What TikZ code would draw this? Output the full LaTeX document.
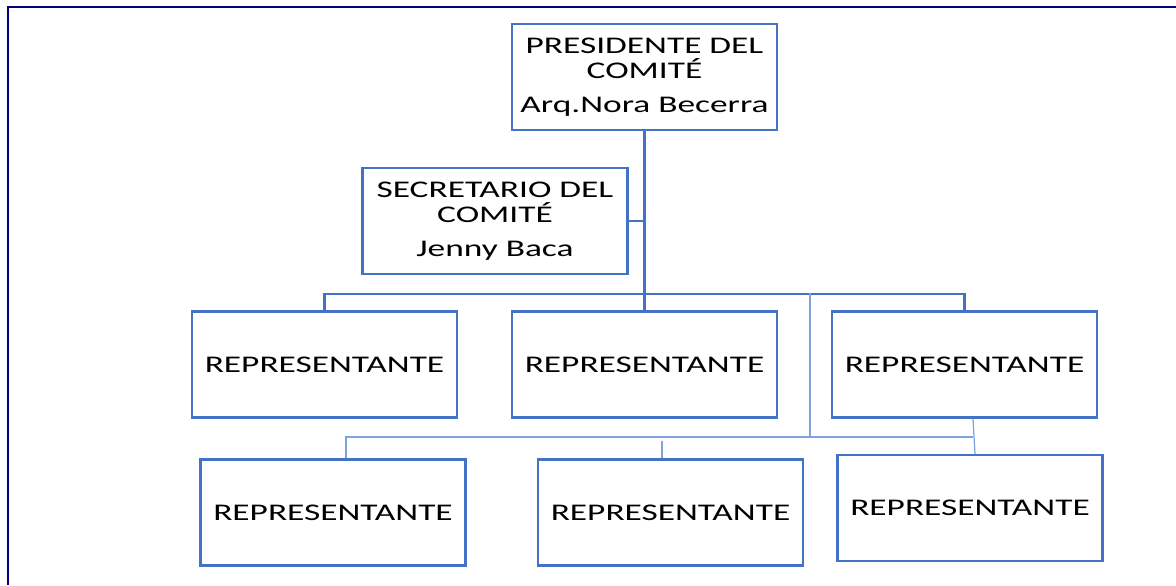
\documentclass[tikz,border=0pt]{standalone}
\usepackage{fontspec}
\setmainfont{Carlito}[FakeStretch=1.48]
\usepackage{tikz}
\definecolor{boxblue}{HTML}{4472C4}
\definecolor{lineblue}{HTML}{7FA3DC}
\definecolor{framenavy}{HTML}{000080}

\begin{document}
\begin{tikzpicture}[x=0.02cm,y=-0.02cm,
  box/.style={draw=boxblue,line width=1.4pt,fill=white,minimum width=5.3cm,minimum height=2.12cm,
    inner sep=0pt,align=center,font=\fontsize{13.6}{14.6}\selectfont},
  link/.style={draw=boxblue,line width=1.3pt},
  thinlink/.style={draw=lineblue,line width=0.7pt}]
\useasboundingbox (0,0) rectangle (1176,585);
\draw[line width=1.7pt,framenavy] (8,585) -- (8,7) -- (1176,7);
\node[box] (pres) at (644.5,77) {PRESIDENTE DEL\\COMITÉ\\[4.5pt]Arq.Nora Becerra};
\node[box] (sec) at (495,221) {SECRETARIO DEL\\COMITÉ\\[4.5pt]Jenny Baca};
\node[box] (rep1) at (324.5,364.5) {REPRESENTANTE};
\node[box] (rep2) at (644.5,364.5) {REPRESENTANTE};
\node[box] (rep3) at (964.5,364.5) {REPRESENTANTE};
\node[box] (rep4) at (333,512.5) {REPRESENTANTE};
\node[box] (rep5) at (670.5,512.5) {REPRESENTANTE};
\node[box] (rep6) at (970,508) {REPRESENTANTE};
\coordinate (busA) at (644.5,294);
\coordinate (tapB) at (810,293);
\coordinate (busL) at (346,437);
\coordinate (busR) at (973,437);
\coordinate (drop5) at (662,441);
\draw[link,line width=1.9pt] (pres.south) -- (rep2.north);
\draw[link] (sec.east) -- (sec.east -| pres.south);
\draw[link] (rep1.north) |- (busA) -| (rep3.north);
\draw[thinlink] (tapB) -- (tapB |- busL);
\draw[thinlink] (busL |- rep4.north) -- (busL) -- (busR);
\draw[thinlink] (drop5) -- (drop5 |- rep5.north);
\draw[thinlink] ([xshift=0.17cm]rep3.south) -- ([xshift=0.1cm]rep6.north);
\end{tikzpicture}
\end{document}
